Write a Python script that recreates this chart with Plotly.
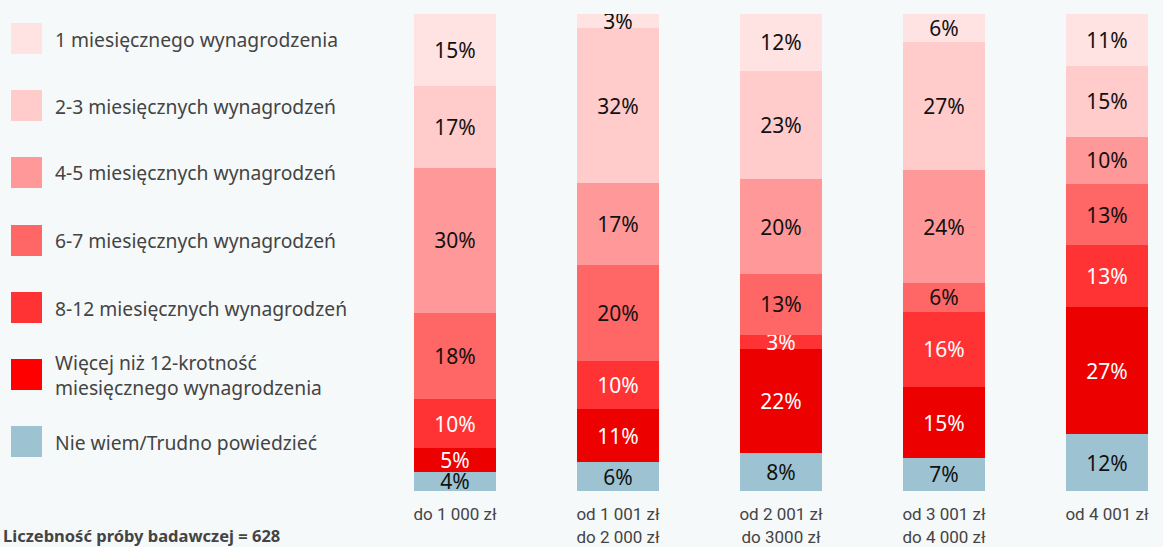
import plotly.graph_objects as go

categories = ["do 1 000 zł", "od 1 001 zł<br>do 2 000 zł", "od 2 001 zł<br>do 3000 zł",
              "od 3 001 zł<br>do 4 000 zł", "od 4 001 zł"]

series_names = [
    "1 miesięcznego wynagrodzenia",
    "2-3 miesięcznych wynagrodzeń",
    "4-5 miesięcznych wynagrodzeń",
    "6-7 miesięcznych wynagrodzeń",
    "8-12 miesięcznych wynagrodzeń",
    "Więcej niż 12-krotność<br>miesięcznego wynagrodzenia",
    "Nie wiem/Trudno powiedzieć",
]

s_1m = [15, 3, 12, 6, 11]
s_2_3 = [17, 32, 23, 27, 15]
s_4_5 = [30, 17, 20, 24, 10]
s_6_7 = [18, 20, 13, 6, 13]
s_8_12 = [10, 10, 3, 16, 13]
s_12plus = [5, 11, 22, 15, 27]
s_nw = [4, 6, 8, 7, 12]

bar_colors = ["#FFE3E3", "#FFCBCB", "#FF9999", "#FF6666", "#FF3333", "#EC0000", "#9DC3D3"]
legend_colors = ["#FFE3E3", "#FFCBCB", "#FF9999", "#FF6666", "#FF3333", "#FF0000", "#9DC3D3"]
text_colors = ["#111111", "#111111", "#111111", "#111111", "#FFFFFF", "#FFFFFF", "#111111"]

# stack order bottom -> top
stack = [
    (6, s_nw), (5, s_12plus), (4, s_8_12), (3, s_6_7), (2, s_4_5), (1, s_2_3), (0, s_1m)
]

W, H = 1163, 547
ML, MR, MT, MB = 380, 3, 14, 56
PW, PH = W - ML - MR, H - MT - MB


def px_x(x):
    return (x - ML) / PW


def px_y(y):
    return 1 - (y - MT) / PH


fig = go.Figure()
xs = list(range(len(categories)))
for idx, vals in stack:
    fig.add_trace(go.Bar(
        x=xs, y=vals, name=series_names[idx],
        marker=dict(color=bar_colors[idx], line=dict(width=0)),
        width=0.503,
        text=[f"{v}%" for v in vals],
        textposition="inside", insidetextanchor="middle",
        constraintext="none",
        textfont=dict(color=text_colors[idx], size=21, family="Noto Sans"),
        showlegend=False, hoverinfo="skip",
    ))

fig.update_layout(
    barmode="stack", barnorm="percent",
    uniformtext=dict(minsize=21, mode="show"),
    width=W, height=H,
    margin=dict(l=ML, r=MR, t=MT, b=MB, autoexpand=False),
    paper_bgcolor="#F6F9FA", plot_bgcolor="#F6F9FA",
    font=dict(family="Noto Sans", color="#444444"),
    xaxis=dict(tickvals=xs, ticktext=categories, range=[-0.46, 4.325],
               showgrid=False, zeroline=False, showline=False, automargin=False,
               ticks="outside", ticklen=8, tickcolor="rgba(0,0,0,0)",
               tickfont=dict(size=17, color="#444444", family="Roboto")),
    yaxis=dict(range=[0, 100], visible=False, showgrid=False, zeroline=False,
               automargin=False),
)

# custom legend on the left
legend_y_top = [23, 90, 157, 225, 292, 359, 426]
for i, name in enumerate(series_names):
    y0 = legend_y_top[i]
    fig.add_shape(type="rect", xref="paper", yref="paper",
                  x0=px_x(11), x1=px_x(42),
                  y0=px_y(y0 + 31), y1=px_y(y0),
                  fillcolor=legend_colors[i], line=dict(width=0), layer="below")
    fig.add_annotation(xref="paper", yref="paper", x=px_x(53),
                       y=px_y(y0 + 16), text=name, showarrow=False,
                       xanchor="left", yanchor="middle", align="left",
                       font=dict(size=19.3, color="#444444", family="Noto Sans"))

fig.add_annotation(xref="paper", yref="paper", x=px_x(1), y=px_y(535),
                   text="<b>Liczebność próby badawczej = 628</b>", showarrow=False,
                   xanchor="left", yanchor="middle",
                   font=dict(size=16.5, color="#444444", family="Noto Sans"))

fig.write_html("out.html", config={"displayModeBar": False},
               post_script="document.body.style.margin='0';")
